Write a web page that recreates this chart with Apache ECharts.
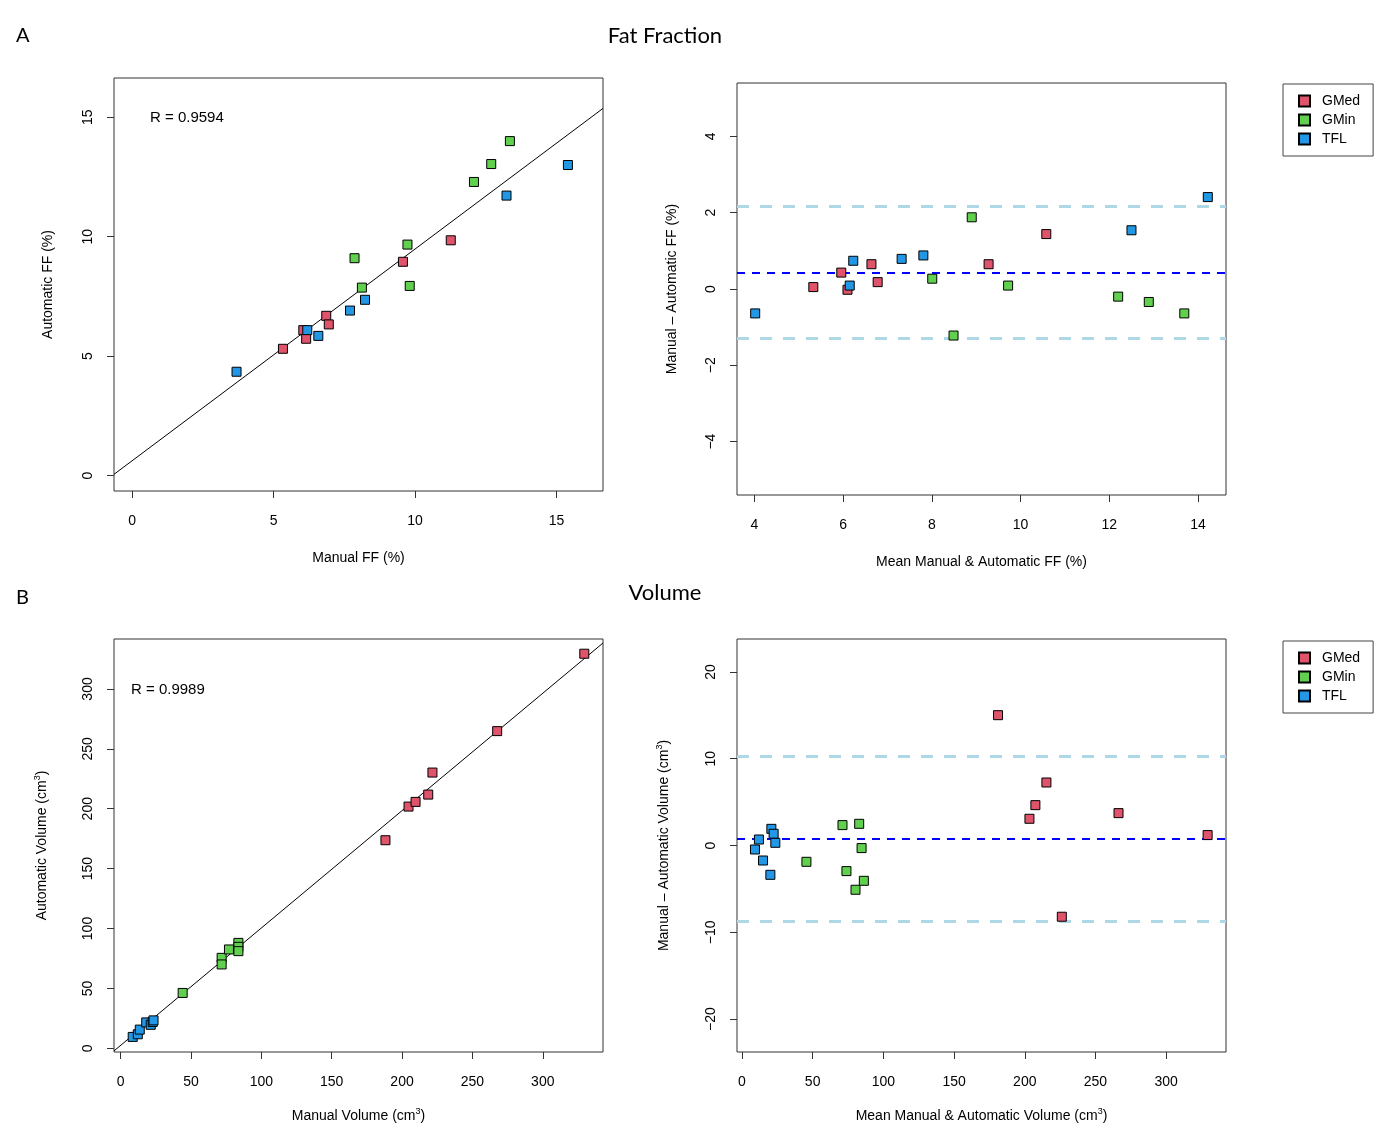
<!DOCTYPE html>
<html>
<head>
<meta charset="utf-8">
<title>Fat Fraction / Volume</title>
<script src="https://cdn.jsdelivr.net/npm/echarts@6/dist/echarts.min.js"></script>
<style>
html, body { margin: 0; padding: 0; background: #fff; }
#main { width: 1378px; height: 1130px; }
</style>
</head>
<body>
<div id="main"></div>
<script>
var groups = ['GMed', 'GMin', 'TFL'];
var groupColors = ['#DF536B', '#61D04F', '#2297E6'];

// A - fat fraction, manual vs automatic (%)
var ffManualGMed = [5.33, 6.05, 6.15, 6.86, 6.95, 9.57, 11.26];
var ffAutoGMed   = [5.31, 6.09, 5.73, 6.69, 6.33, 8.95, 9.85];
var ffManualGMin = [7.86, 8.12, 9.73, 9.81, 12.08, 12.69, 13.35];
var ffAutoGMin   = [9.10, 7.87, 9.67, 7.94, 12.29, 13.04, 14.00];
var ffManualTFL  = [3.69, 6.19, 6.58, 7.70, 8.23, 13.23, 15.40];
var ffAutoTFL    = [4.35, 6.09, 5.85, 6.91, 7.36, 11.72, 13.00];
var ffFit = [0.625, 0.886]; // intercept, slope

// A - Bland-Altman
var ffMeanGMed = [5.33, 5.96, 6.10, 6.64, 6.78, 9.28, 10.58];
var ffDiffGMed = [0.05, 0.43, -0.02, 0.65, 0.18, 0.65, 1.44];
var ffMeanGMin = [8.01, 8.49, 8.90, 9.72, 12.20, 12.89, 13.69];
var ffDiffGMin = [0.27, -1.22, 1.88, 0.09, -0.20, -0.34, -0.64];
var ffMeanTFL  = [4.02, 6.15, 6.23, 7.32, 7.81, 12.50, 14.22];
var ffDiffTFL  = [-0.64, 0.09, 0.74, 0.79, 0.88, 1.54, 2.41];
var ffBias = [0.43, -1.30, 2.16]; // mean, lower, upper

// B - volume (cm3)
var volManualGMed = [188.2, 204.6, 209.6, 218.6, 221.6, 267.6, 329.5];
var volAutoGMed   = [173.7, 201.8, 205.7, 211.8, 230.2, 264.8, 329.4];
var volManualGMin = [44.1, 71.8, 71.8, 77.0, 83.7, 83.7, 83.7];
var volAutoGMin   = [46.2, 75.5, 70.0, 82.5, 88.0, 84.7, 81.1];
var volManualTFL  = [8.6, 12.2, 13.6, 18.2, 21.4, 22.8, 23.4];
var volAutoTFL    = [9.5, 11.7, 15.6, 21.6, 19.6, 22.0, 23.3];
var volFit = [2.41, 0.98];

var volMeanGMed = [181.1, 203.3, 207.5, 215.3, 226.2, 266.3, 329.3];
var volDiffGMed = [15.02, 3.08, 4.65, 7.26, -8.21, 3.73, 1.2];
var volMeanGMin = [45.6, 71.1, 73.9, 80.3, 82.9, 84.6, 86.2];
var volDiffGMin = [-1.88, 2.35, -2.95, -5.1, 2.5, -0.3, -4.07];
var volMeanTFL  = [9.2, 12.0, 14.9, 20.1, 20.8, 22.4, 23.6];
var volDiffTFL  = [-0.46, 0.69, -1.73, -3.38, 1.92, 1.35, 0.31];
var volBias = [0.74, -8.76, 10.25];

// tick labels
var ffTicks = [0, 5, 10, 15];
var ffMeanTicks = [4, 6, 8, 10, 12, 14];
var ffDiffTicks = [-4, -2, 0, 2, 4];
var volTicks = [0, 50, 100, 150, 200, 250, 300];
var volDiffTicks = [-20, -10, 0, 10, 20];

var FONT = 'Liberation Sans, Arial, sans-serif';
var AXC = '#333';

var zip = function (xs, ys) {
	var out = [];
	for (var i = 0; i < xs.length; i++) out.push([xs[i], ys[i]]);
	return out;
};

var minus = function (v) {
	return String(v).replace('-', '\u2212');
};

var supRich = {
	sup: { fontSize: 9, fontFamily: FONT, color: '#000', verticalAlign: 'top', padding: [0, 0, 10, 0] }
};

var makeAxis = function (dim, idx, min, max, ticks, name, gap, margin) {
	var ax = {
		type: 'value',
		gridIndex: idx,
		min: min,
		max: max,
		name: name,
		nameLocation: 'middle',
		nameGap: gap,
		nameTextStyle: { fontSize: 14, fontFamily: FONT, color: '#000', rich: supRich },
		splitLine: { show: false },
		axisLine: { show: false, onZero: false },
		axisTick: { show: true, length: 7, customValues: ticks, lineStyle: { color: AXC } },
		axisLabel: {
			customValues: ticks,
			fontSize: 14,
			fontFamily: FONT,
			color: '#000',
			margin: margin,
			formatter: minus,
			showMinLabel: true,
			showMaxLabel: true
		}
	};
	if (dim == 'y') {
		ax.nameRotate = 90;
		ax.axisLabel.rotate = 90;
	}
	return ax;
};

var scatter = function (gi, idx, xs, ys) {
	return {
		name: groups[gi],
		type: 'scatter',
		xAxisIndex: idx,
		yAxisIndex: idx,
		symbol: 'rect',
		symbolSize: 9,
		itemStyle: { color: groupColors[gi], borderColor: '#000', borderWidth: 1, opacity: 1 },
		data: zip(xs, ys),
		z: 5
	};
};

// regression line across the whole plot box
var fitLine = function (idx, fit, xmin, xmax) {
	return {
		type: 'line',
		xAxisIndex: idx,
		yAxisIndex: idx,
		silent: true,
		symbol: 'none',
		lineStyle: { color: '#000', width: 1 },
		data: [[xmin, fit[0] + fit[1] * xmin], [xmax, fit[0] + fit[1] * xmax]],
		z: 3
	};
};

// mean difference and limits of agreement
var biasLines = function (idx, bias) {
	return {
		type: 'line',
		xAxisIndex: idx,
		yAxisIndex: idx,
		silent: true,
		data: [],
		markLine: {
			silent: true,
			symbol: 'none',
			label: { show: false },
			animation: false,
			data: [
				{ yAxis: bias[1], lineStyle: { color: '#ADD8E6', width: 3, type: [12, 11], opacity: 1 } },
				{ yAxis: bias[2], lineStyle: { color: '#ADD8E6', width: 3, type: [12, 11], opacity: 1 } },
				{ yAxis: bias[0], lineStyle: { color: '#0000FF', width: 2, type: [8, 7], opacity: 1 } }
			]
		},
		z: 2
	};
};

var legendAt = function (top) {
	return {
		left: 1283,
		top: top,
		orient: 'vertical',
		data: groups,
		icon: 'rect',
		itemWidth: 11,
		itemHeight: 11,
		itemGap: 5,
		padding: [10, 13, 10, 15],
		borderColor: '#444',
		borderWidth: 1,
		borderRadius: 0,
		backgroundColor: '#fff',
		selectedMode: false,
		textStyle: { fontSize: 14, fontFamily: FONT, color: '#000', padding: [0, 0, 0, 7] }
	};
};

var gridStyle = { show: true, borderColor: AXC, borderWidth: 1, backgroundColor: 'transparent' };
var grids = [
	Object.assign({ left: 114, top: 78, width: 489, height: 413 }, gridStyle),
	Object.assign({ left: 737, top: 83, width: 489, height: 412 }, gridStyle),
	Object.assign({ left: 114, top: 639, width: 489, height: 413 }, gridStyle),
	Object.assign({ left: 737, top: 639, width: 489, height: 413 }, gridStyle)
];

var ffRange = [-0.64, 16.64];
var ffMeanRange = [3.61, 14.63];
var volXRange = [-4.7, 342.8];
var volYRange = [-3.1, 341.7];
var volMeanRange = [-3.5, 342.3];

var chart = echarts.init(document.getElementById('main'), null, { renderer: 'canvas' });
chart.setOption({
	animation: false,
	backgroundColor: '#fff',
	grid: grids,
	xAxis: [
		makeAxis('x', 0, ffRange[0], ffRange[1], ffTicks, 'Manual FF (%)', 60, 23),
		makeAxis('x', 1, ffMeanRange[0], ffMeanRange[1], ffMeanTicks, 'Mean Manual & Automatic FF (%)', 60, 23),
		makeAxis('x', 2, volXRange[0], volXRange[1], volTicks, 'Manual Volume (cm{sup|3})', 55, 23),
		makeAxis('x', 3, volMeanRange[0], volMeanRange[1], volTicks, 'Mean Manual & Automatic Volume (cm{sup|3})', 55, 23)
	],
	yAxis: [
		makeAxis('y', 0, ffRange[0], ffRange[1], ffTicks, 'Automatic FF (%)', 59, 19),
		makeAxis('y', 1, -5.4, 5.4, ffDiffTicks, 'Manual \u2013 Automatic FF (%)', 58, 19),
		makeAxis('y', 2, volYRange[0], volYRange[1], volTicks, 'Automatic Volume (cm{sup|3})', 62, 19),
		makeAxis('y', 3, -23.8, 23.8, volDiffTicks, 'Manual \u2013 Automatic Volume (cm{sup|3})', 63, 19)
	],
	legend: [legendAt(84), legendAt(641)],
	graphic: [
		{ type: 'text', x: 16, y: 26, style: { text: 'A', fontSize: 20, fontFamily: 'Lato', fill: '#000' } },
		{ type: 'text', x: 665, y: 36, style: { text: 'Fat Fraction', fontSize: 22, fontFamily: 'Lato', fill: '#000', align: 'center', verticalAlign: 'middle' } },
		{ type: 'text', x: 16, y: 588, style: { text: 'B', fontSize: 20, fontFamily: 'Lato', fill: '#000' } },
		{ type: 'text', x: 665, y: 593, style: { text: 'Volume', fontSize: 22, fontFamily: 'Lato', fill: '#000', align: 'center', verticalAlign: 'middle' } },
		{ type: 'text', x: 150, y: 118, style: { text: 'R = 0.9594', fontSize: 15, fontFamily: FONT, fill: '#000', verticalAlign: 'middle' } },
		{ type: 'text', x: 131, y: 690, style: { text: 'R = 0.9989', fontSize: 15, fontFamily: FONT, fill: '#000', verticalAlign: 'middle' } }
	],
	series: [
		fitLine(0, ffFit, ffRange[0], ffRange[1]),
		scatter(0, 0, ffManualGMed, ffAutoGMed),
		scatter(1, 0, ffManualGMin, ffAutoGMin),
		scatter(2, 0, ffManualTFL, ffAutoTFL),

		biasLines(1, ffBias),
		scatter(0, 1, ffMeanGMed, ffDiffGMed),
		scatter(1, 1, ffMeanGMin, ffDiffGMin),
		scatter(2, 1, ffMeanTFL, ffDiffTFL),

		fitLine(2, volFit, volXRange[0], volXRange[1]),
		scatter(0, 2, volManualGMed, volAutoGMed),
		scatter(1, 2, volManualGMin, volAutoGMin),
		scatter(2, 2, volManualTFL, volAutoTFL),

		biasLines(3, volBias),
		scatter(0, 3, volMeanGMed, volDiffGMed),
		scatter(1, 3, volMeanGMin, volDiffGMin),
		scatter(2, 3, volMeanTFL, volDiffTFL)
	]
});
</script>
</body>
</html>
